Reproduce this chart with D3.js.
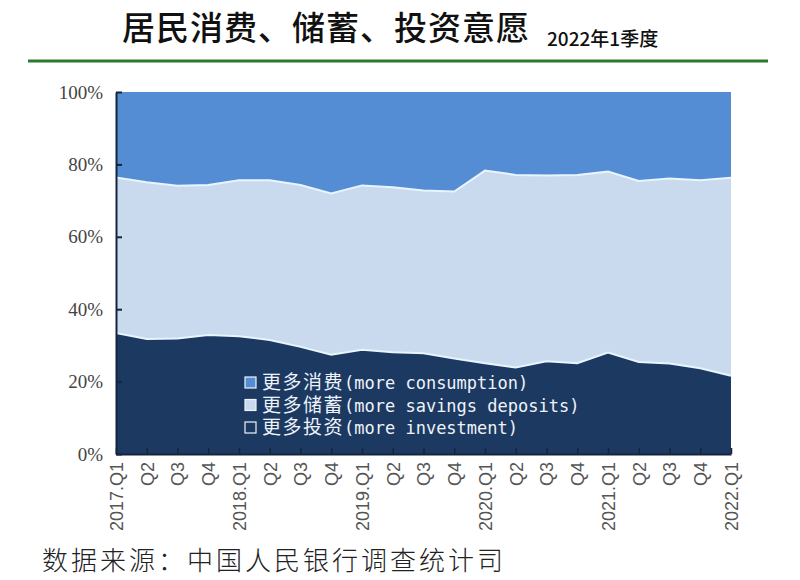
<!DOCTYPE html>
<html>
<head>
<meta charset="utf-8">
<script src="https://cdn.jsdelivr.net/npm/d3@7"></script>
<style>
  body { margin: 0; background: #fff; }
  svg { display: block; }
</style>
</head>
<body>
<svg></svg>
<script>
const size = {w: 800, h: 580};
const margin = {t: 92, r: 69, b: 126, l: 116};

// quarter labels
const quarters = ['2017.Q1','Q2','Q3','Q4','2018.Q1','Q2','Q3','Q4','2019.Q1','Q2','Q3','Q4',
    '2020.Q1','Q2','Q3','Q4','2021.Q1','Q2','Q3','Q4','2022.Q1'];

// shares in percent
const investment = [33.4, 31.8, 31.9, 32.9, 32.5, 31.5, 29.6, 27.4, 28.8, 28.1, 27.8,
    26.4, 25.1, 23.9, 25.6, 25.1, 28.0, 25.4, 25.0, 23.7, 21.6];
const savings = [43.0, 43.3, 42.2, 41.4, 43.1, 44.1, 44.7, 44.6, 45.4, 45.6, 45.0,
    46.1, 53.2, 53.2, 51.3, 52.0, 50.0, 50.0, 51.1, 51.9, 54.7];
const consumption = [23.6, 24.9, 25.9, 25.7, 24.4, 24.4, 25.7, 28.0, 25.8, 26.3, 27.2,
    27.5, 21.7, 22.9, 23.1, 22.9, 22.0, 24.6, 23.9, 24.4, 23.7];

const yTicks = [0, 20, 40, 60, 80, 100];

const legendItems = [
    {cn: '更多消费', en: '(more consumption)', key: 'consumption'},
    {cn: '更多储蓄', en: '(more savings deposits)', key: 'savings'},
    {cn: '更多投资', en: '(more investment)', key: 'investment'}
];

const colors = {consumption: '#548dd3', savings: '#c9daee', investment: '#1c3961'};

const svg = d3.select('svg')
    .attr('width', size.w)
    .attr('height', size.h);

// title block
svg.append('text')
    .attr('x', 122)
    .attr('y', 40)
    .style('font-family', '"Noto Sans CJK SC"')
    .style('font-size', '33px')
    .style('font-weight', 500)
    .style('letter-spacing', '1px')
    .style('fill', '#111')
    .text('居民消费、储蓄、投资意愿');

svg.append('text')
    .attr('x', 547)
    .attr('y', 46)
    .style('font-family', '"Noto Sans CJK SC"')
    .style('font-size', '19px')
    .style('font-weight', 500)
    .style('fill', '#111')
    .text('2022年1季度');

svg.append('line')
    .attr('x1', 28).attr('x2', 768)
    .attr('y1', 61).attr('y2', 61)
    .style('stroke', '#2d7a2e')
    .style('stroke-width', 3);

const table = quarters.map((q, i) => ({
    i: i,
    investment: investment[i],
    savings: savings[i],
    consumption: consumption[i]
}));

const keys = ['investment', 'savings', 'consumption'];
const series = d3.stack().keys(keys)(table);

const innerW = size.w - margin.l - margin.r;
const innerH = size.h - margin.t - margin.b;

const x = d3.scaleLinear()
    .domain([0, quarters.length - 1])
    .range([0, innerW]);

const y = d3.scaleLinear()
    .domain([0, 100])
    .range([innerH, 0]);

const chartG = svg.append('g')
    .attr('transform', `translate(${margin.l},${margin.t})`);

const area = d3.area()
    .x(d => x(d.data.i))
    .y0(d => y(d[0]))
    .y1(d => y(d[1]));

chartG.selectAll('path.layer')
    .data(series)
    .join('path')
    .classed('layer', true)
    .attr('d', area)
    .style('fill', d => colors[d.key]);

// pale lines between the layers
const edge = d3.line()
    .x(d => x(d.data.i))
    .y(d => y(d[1]));

chartG.selectAll('path.edge')
    .data(series.slice(0, 2))
    .join('path')
    .classed('edge', true)
    .attr('d', edge)
    .style('fill', 'none')
    .style('stroke', '#e8f5ff')
    .style('stroke-width', 2);

// axes
const yAxis = d3.axisLeft(y)
    .tickValues(yTicks)
    .tickFormat(d => d + '%')
    .tickSizeInner(-6)
    .tickSizeOuter(0)
    .tickPadding(13);

const yG = chartG.append('g').call(yAxis);
yG.select('.domain').style('stroke', '#14253d').style('stroke-width', 2);
yG.selectAll('.tick line').style('stroke', '#14253d').style('stroke-width', 2);
yG.selectAll('text')
    .style('font-family', '"Liberation Serif", "Times New Roman", serif')
    .style('font-size', '19px')
    .style('fill', '#444');

const xAxis = d3.axisBottom(x)
    .tickValues(d3.range(quarters.length))
    .tickFormat(i => quarters[i])
    .tickSizeInner(-6)
    .tickSizeOuter(0);

const xG = chartG.append('g')
    .attr('transform', `translate(0,${innerH})`)
    .call(xAxis);
xG.select('.domain').style('stroke', '#14253d').style('stroke-width', 2);
xG.selectAll('.tick line').style('stroke', '#14253d').style('stroke-width', 1.5);
xG.selectAll('text')
    .attr('transform', 'rotate(-90)')
    .attr('text-anchor', 'end')
    .attr('x', -8)
    .attr('y', 0)
    .attr('dy', '0.35em')
    .style('font-family', '"Liberation Sans", Arial, sans-serif')
    .style('font-size', '18px')
    .style('fill', '#555');

// legend inside the plot
const legendG = svg.append('g')
    .attr('transform', 'translate(245,377)');

const rows = legendG.selectAll('g')
    .data(legendItems)
    .join('g')
    .attr('transform', (d, i) => `translate(0,${i * 22.5})`);

rows.append('rect')
    .attr('width', 11)
    .attr('height', 11)
    .style('fill', d => colors[d.key])
    .style('stroke', '#eef4fa')
    .style('stroke-width', 1.2);

const label = rows.append('text')
    .attr('x', 17)
    .attr('y', 12)
    .style('fill', '#eef3f9');

label.append('tspan')
    .style('font-family', '"Noto Sans CJK SC"')
    .style('font-size', '19px')
    .style('letter-spacing', '1.5px')
    .text(d => d.cn);

label.append('tspan')
    .style('font-family', '"DejaVu Sans Mono"')
    .style('font-size', '17px')
    .text(d => d.en);

// source note
svg.append('text')
    .attr('x', 42)
    .attr('y', 570)
    .style('font-family', '"Noto Sans CJK SC"')
    .style('font-size', '26px')
    .style('font-weight', 300)
    .style('letter-spacing', '3px')
    .style('fill', '#222')
    .text('数据来源：中国人民银行调查统计司');
</script>
</body>
</html>
